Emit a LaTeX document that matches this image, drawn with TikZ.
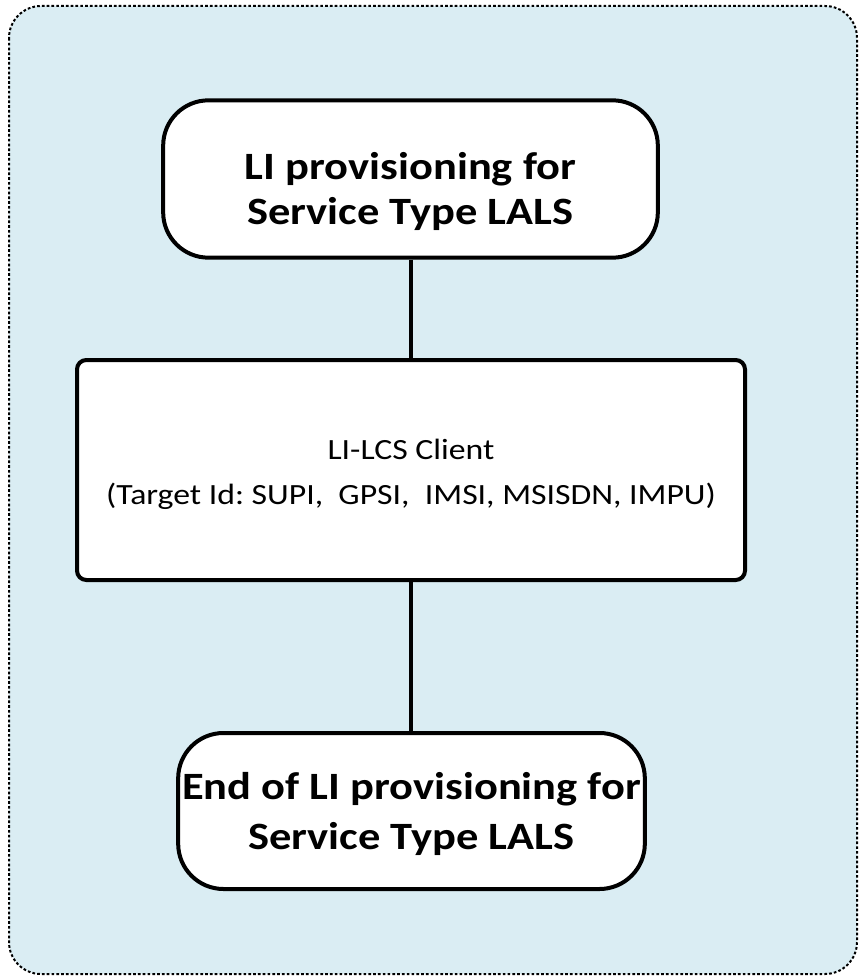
\documentclass[tikz,border=0pt]{standalone}
\usepackage{fontspec}
\setmainfont{Carlito}[FakeStretch=1.15]
\usepackage{tikz}
\frenchspacing

\definecolor{panelblue}{HTML}{DAEDF3}

\tikzset{
	endpoint/.style={draw,line width=3pt,fill=white,rounded corners=34pt,align=center,inner sep=0pt,text depth=0pt},
	clientbox/.style={draw,line width=3pt,fill=white,rounded corners=7pt,align=center,inner sep=0pt,text depth=0pt,font=\fontsize{22}{34}\selectfont},
	link/.style={line width=3pt}
}

\begin{document}
\begin{tikzpicture}[x=0.75pt,y=-0.75pt]
		\useasboundingbox (0,0) rectangle (860,977);
		\draw[fill=panelblue,line width=1.5pt,dash pattern=on 2pt off 1.6pt,rounded corners=24pt] (9,6) rectangle (857,974);
		\coordinate (START) at (410.5,179);
		\coordinate (CLIENT) at (411,470);
		\coordinate (FINISH) at (411.5,811);
		\node[endpoint,minimum width=371pt,minimum height=118pt,text height=68pt,
			font=\fontsize{29}{34}\selectfont\bfseries] (start) at (START) {LI provisioning for\\Service Type LALS};
		\node[clientbox,minimum width=501pt,minimum height=165pt,text height=52pt] (client) at (CLIENT)
			{LI-LCS Client\\(Target Id: SUPI,\ \ GPSI,\ \ IMSI, MSISDN, IMPU)};
		\node[endpoint,minimum width=350pt,minimum height=117pt,text height=58pt,
			font=\fontsize{29}{37.5}\selectfont\bfseries] (finish) at (FINISH) {End of LI provisioning for\\Service Type LALS};
		\draw[link] (start.south -| client.north) -- (client.north);
		\draw[link] (client.south) -- (finish.north -| client.south);
	    \end{tikzpicture}
\end{document}
